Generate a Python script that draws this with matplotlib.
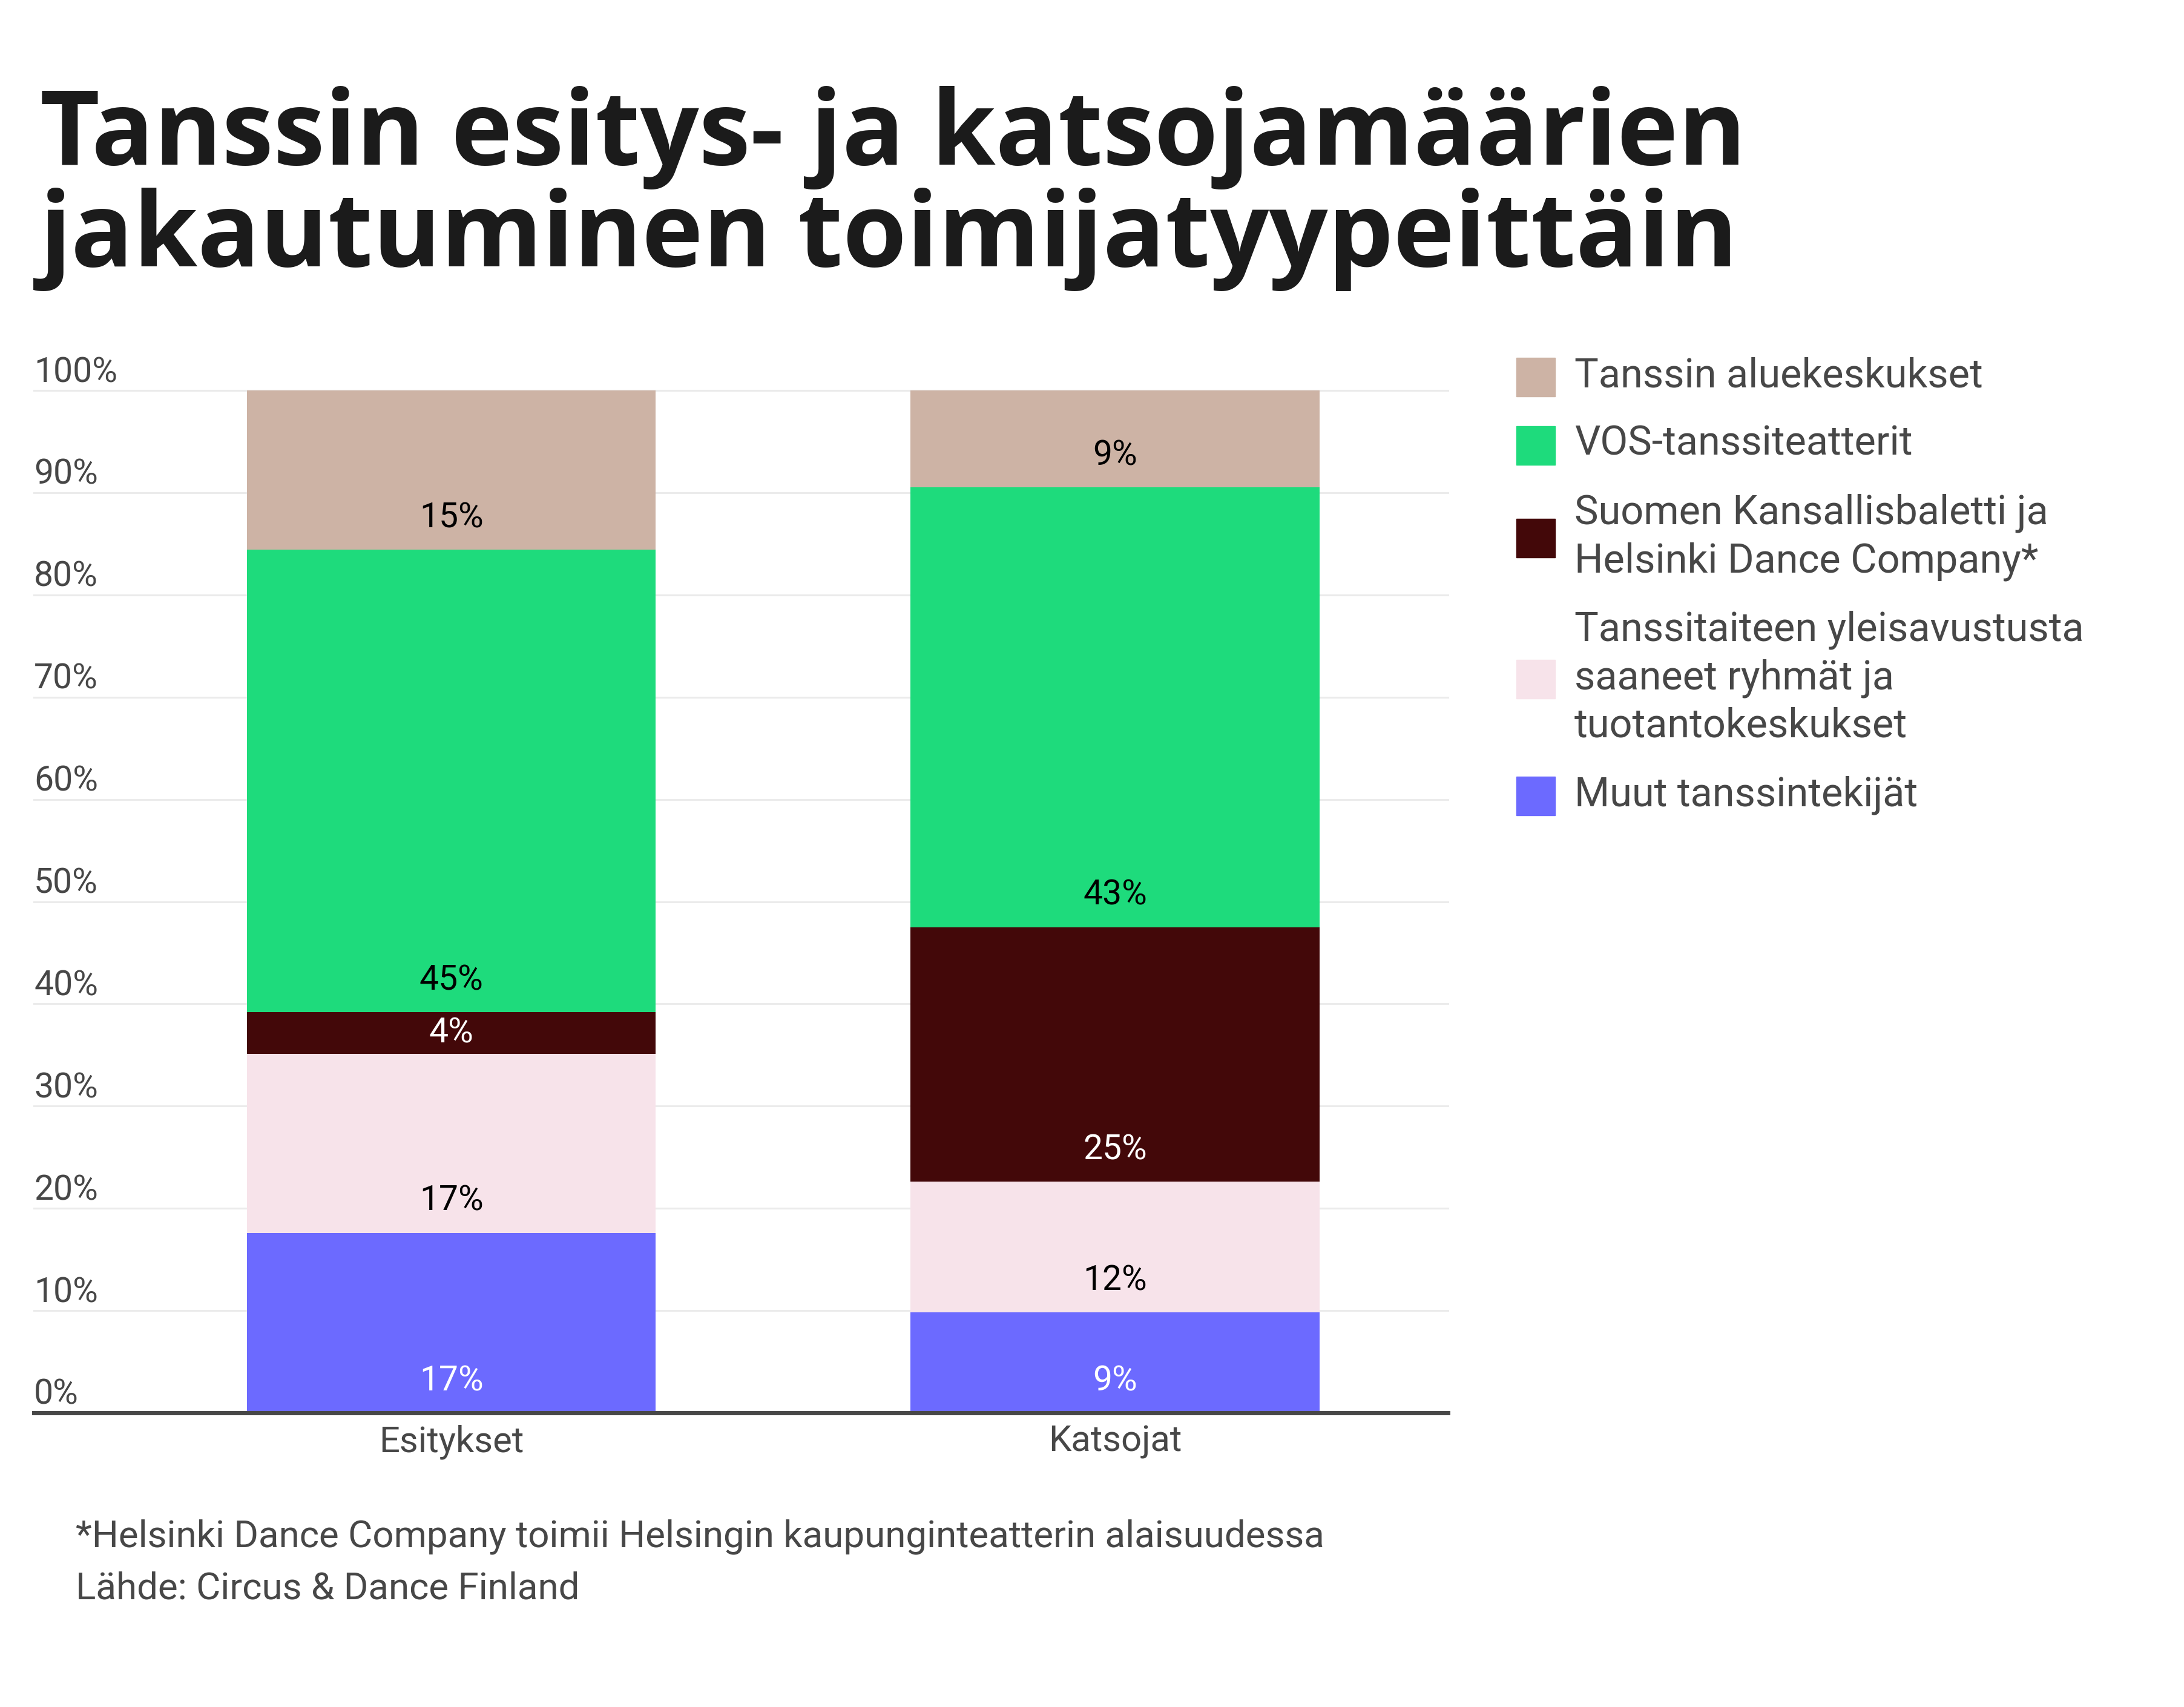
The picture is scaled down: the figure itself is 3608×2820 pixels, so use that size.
import numpy as np
import matplotlib
matplotlib.use("Agg")
import matplotlib.pyplot as plt
import matplotlib.transforms as mtransforms
from matplotlib.patches import Rectangle

# data (percent shares, bottom -> top of stack)
categories = ["Esitykset", "Katsojat"]
series_names = [
    "Muut tanssintekijät",
    "Tanssitaiteen yleisavustusta\nsaaneet ryhmät ja\ntuotantokeskukset",
    "Suomen Kansallisbaletti ja\nHelsinki Dance Company*",
    "VOS-tanssiteatterit",
    "Tanssin aluekeskukset",
]
esitykset = [17.6, 17.5, 4.1, 45.2, 15.6]
katsojat = [9.8, 12.8, 24.9, 43.0, 9.5]
esitykset_labels = ["17%", "17%", "4%", "45%", "15%"]
katsojat_labels = ["9%", "12%", "25%", "43%", "9%"]
yticks = [0, 10, 20, 30, 40, 50, 60, 70, 80, 90, 100]

colors = ["#6c6aff", "#f7e3ea", "#430809", "#1edb7c", "#cdb3a5"]
label_colors = ["white", "black", "white", "black", "black"]
grey = "#474747"

title_lines = ["Tanssin esitys- ja katsojamäärien", "jakautuminen toimijatyypeittäin"]
notes = ["*Helsinki Dance Company toimii Helsingin kaupunginteatterin alaisuudessa",
         "Lähde: Circus & Dance Finland"]

plt.rcParams['font.family'] = ['Roboto', 'DejaVu Sans']

W, H = 3608, 2820
fig = plt.figure(figsize=(W / 100, H / 100), dpi=100)


def fx(px):
    return px / W


def fy(py):
    return 1 - py / H


ax = fig.add_axes([fx(56), fy(2334), (2392 - 56) / W, (2334 - 645) / H])
ax.set_xlim(-0.629, 1.5016)
ax.set_ylim(0, 100)
for s in ax.spines.values():
    s.set_visible(False)

values = np.array([esitykset, katsojat])
bottoms = np.cumsum(values, axis=1) - values
labels = [esitykset_labels, katsojat_labels]
x = np.arange(len(categories))

for i in range(len(series_names)):
    ax.bar(x, values[:, i], bottom=bottoms[:, i], width=0.616,
           color=colors[i], linewidth=0, zorder=2)

# value labels sit a little above the bottom of each segment
for j in range(len(categories)):
    for i in range(len(series_names)):
        h = values[j, i]
        y = bottoms[j, i] + min(3.1, h / 2)
        ax.text(x[j], y, labels[j][i], ha='center', va='center',
                fontsize=41, color=label_colors[i], zorder=4)

# gridlines + baseline
for t in yticks[1:]:
    ax.axhline(t, color="#ebebeb", lw=2.2, zorder=1, clip_on=False)
ax.axhline(0, color=grey, lw=5, zorder=3, clip_on=False)

# y labels above the gridlines, left aligned
trans = mtransforms.offset_copy(ax.get_yaxis_transform(), fig=fig, x=0, y=14, units='dots')
for t in yticks:
    ax.text(0, t, f"{t}%", transform=trans, ha='left', va='baseline',
            fontsize=41, color=grey)

ax.set_yticks([])
ax.set_xticks(x, categories)
ax.tick_params(axis='x', length=0, pad=14, labelsize=43, labelcolor=grey)

# legend, top entry = top of stack
center = 623
prev_n = None
for i in reversed(range(len(series_names))):
    lines = series_names[i].split("\n")
    n = len(lines)
    if prev_n is not None:
        center = center + prev_n * 40 + 33 + n * 40
    fig.add_artist(Rectangle((fx(2505), fy(center + 32)), 64 / W, 64 / H,
                             color=colors[i], transform=fig.transFigure))
    for k, line in enumerate(lines):
        base = center + 16 - (n - 1) * 40 + k * 80
        fig.text(fx(2601), fy(base), line, fontsize=48, color=grey, va='baseline')
    prev_n = n

# title
for k, line in enumerate(title_lines):
    fig.text(fx(66), fy(272 + k * 168), line, fontsize=123, fontweight='bold',
             family=['Open Sans', 'DejaVu Sans'], color="#1b1b1b", va='baseline')

# footnotes
for k, line in enumerate(notes):
    fig.text(fx(125), fy(2556 + k * 85), line, fontsize=44.6, color=grey, va='baseline')

fig.savefig("out.png", dpi=100, facecolor="white")
